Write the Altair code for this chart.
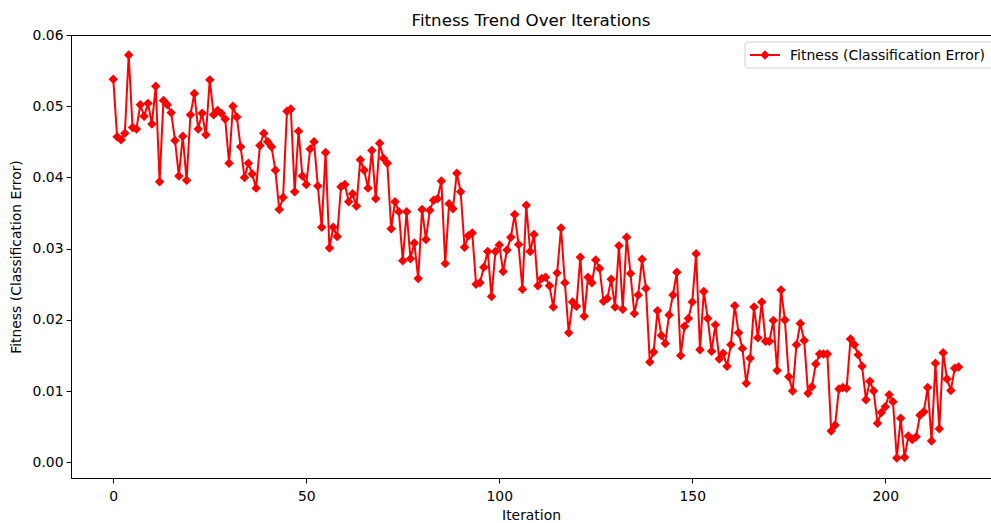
import altair as alt
import pandas as pd

iterations = list(range(220))
fitness = [
    0.0538, 0.0457, 0.0453, 0.0462, 0.0572, 0.0470, 0.0468, 0.0502, 0.0486, 0.0504,
    0.0475, 0.0528, 0.0394, 0.0508, 0.0502, 0.0491, 0.0452, 0.0402, 0.0458, 0.0396,
    0.0488, 0.0518, 0.0468, 0.0490, 0.0460, 0.0537, 0.0488, 0.0494, 0.0490, 0.0482,
    0.0420, 0.0500, 0.0485, 0.0443, 0.0400, 0.0420, 0.0405, 0.0385, 0.0445, 0.0462,
    0.0450, 0.0443, 0.0410, 0.0355, 0.0372, 0.0493, 0.0496, 0.0380, 0.0465, 0.0402,
    0.0390, 0.0440, 0.0450, 0.0388, 0.0330, 0.0435, 0.0301, 0.0330, 0.0317, 0.0387,
    0.0390, 0.0366, 0.0377, 0.0360, 0.0425, 0.0410, 0.0385, 0.0438, 0.0370, 0.0448,
    0.0427, 0.0420, 0.0328, 0.0366, 0.0352, 0.0283, 0.0352, 0.0286, 0.0308, 0.0258,
    0.0355, 0.0313, 0.0354, 0.0368, 0.0370, 0.0395, 0.0279, 0.0363, 0.0356, 0.0406,
    0.0380, 0.0302, 0.0318, 0.0322, 0.0250, 0.0252, 0.0274, 0.0296, 0.0233, 0.0296,
    0.0305, 0.0268, 0.0298, 0.0316, 0.0348, 0.0306, 0.0243, 0.0361, 0.0296, 0.0320,
    0.0248, 0.0258, 0.0260, 0.0248, 0.0218, 0.0266, 0.0329, 0.0252, 0.0182, 0.0225,
    0.0219, 0.0288, 0.0205, 0.0260, 0.0252, 0.0284, 0.0272, 0.0226, 0.0230, 0.0257,
    0.0218, 0.0304, 0.0215, 0.0316, 0.0265, 0.0209, 0.0235, 0.0285, 0.0244, 0.0141,
    0.0155, 0.0213, 0.0178, 0.0167, 0.0207, 0.0235, 0.0267, 0.0150, 0.0191, 0.0202,
    0.0225, 0.0293, 0.0158, 0.0240, 0.0202, 0.0156, 0.0193, 0.0145, 0.0153, 0.0135,
    0.0165, 0.0220, 0.0182, 0.0160, 0.0111, 0.0146, 0.0218, 0.0175, 0.0225, 0.0170,
    0.0170, 0.0199, 0.0129, 0.0242, 0.0200, 0.0120, 0.0100, 0.0165, 0.0195, 0.0171,
    0.0097, 0.0106, 0.0138, 0.0152, 0.0152, 0.0152, 0.0044, 0.0052, 0.0103, 0.0105,
    0.0104, 0.0173, 0.0165, 0.0151, 0.0135, 0.0088, 0.0114, 0.0100, 0.0055, 0.0070,
    0.0078, 0.0095, 0.0085, 0.0006, 0.0062, 0.0007, 0.0037, 0.0032, 0.0036, 0.0066,
    0.0071, 0.0105, 0.0030, 0.0139, 0.0047, 0.0154, 0.0117, 0.0101, 0.0132, 0.0134,
]
x_ticks = [0, 50, 100, 150, 200]
y_ticks = [0.00, 0.01, 0.02, 0.03, 0.04, 0.05, 0.06]
series_label = "Fitness (Classification Error)"

df = pd.DataFrame({"Iteration": iterations, "Fitness": fitness})

FONT = "DejaVu Sans"
RED = "#ff0000"
MSIZE = 90

x_enc = alt.X(
    "Iteration:Q",
    scale=alt.Scale(domain=[-10.95, 227.4], nice=False, zero=False),
    axis=alt.Axis(values=x_ticks, title="Iteration", grid=False, format="d"),
)
y_enc = alt.Y(
    "Fitness:Q",
    scale=alt.Scale(domain=[-0.0022, 0.0600], nice=False, zero=False),
    axis=alt.Axis(values=y_ticks, title="Fitness (Classification Error)", grid=False, format=".2f"),
)

base = alt.Chart(df)
line = base.mark_line(color=RED, strokeWidth=2, clip=True).encode(x=x_enc, y=y_enc)
points = base.mark_point(
    shape="diamond", filled=True, color=RED, size=MSIZE, opacity=1, clip=True
).encode(x=x_enc, y=y_enc)

one = alt.Data(values=[{"label": series_label}])
leg_box = alt.Chart(one).mark_rect(
    fill="white", stroke="#d0d0d0", strokeWidth=1, cornerRadius=3, opacity=1
).encode(x=alt.value(674), x2=alt.value(925), y=alt.value(7), y2=alt.value(33))
leg_line = alt.Chart(one).mark_rule(color=RED, strokeWidth=2).encode(
    x=alt.value(679), x2=alt.value(709), y=alt.value(20)
)
leg_pt = alt.Chart(one).mark_point(
    shape="diamond", filled=True, color=RED, size=MSIZE, opacity=1
).encode(x=alt.value(694), y=alt.value(20))
leg_text = alt.Chart(one).mark_text(
    align="left", baseline="middle", font=FONT, fontSize=14, color="black"
).encode(x=alt.value(719), y=alt.value(20.5), text="label:N")

chart = (
    alt.layer(line, points, leg_box, leg_line, leg_pt, leg_text)
    .properties(
        width=920,
        height=443,
        title=alt.TitleParams(
            "Fitness Trend Over Iterations", font=FONT, fontSize=16.7,
            fontWeight="normal", color="black", offset=-2,
        ),
        autosize=alt.AutoSizeParams(type="none"),
        padding={"left": 71, "top": 35, "right": 0, "bottom": 45},
    )
    .configure_view(stroke="black", strokeWidth=1)
    .configure_axis(
        labelFont=FONT, titleFont=FONT, labelFontSize=13.9, titleFontSize=13.9,
        titleFontWeight="normal", labelColor="black", titleColor="black",
        domainColor="black", tickColor="black", tickSize=5, domainWidth=1,
    )
    .configure_axisX(labelPadding=6, titlePadding=6)
    .configure_axisY(labelPadding=3, titlePadding=9)
)

chart.save("out.html", embed_options={"renderer": "svg", "actions": False})
